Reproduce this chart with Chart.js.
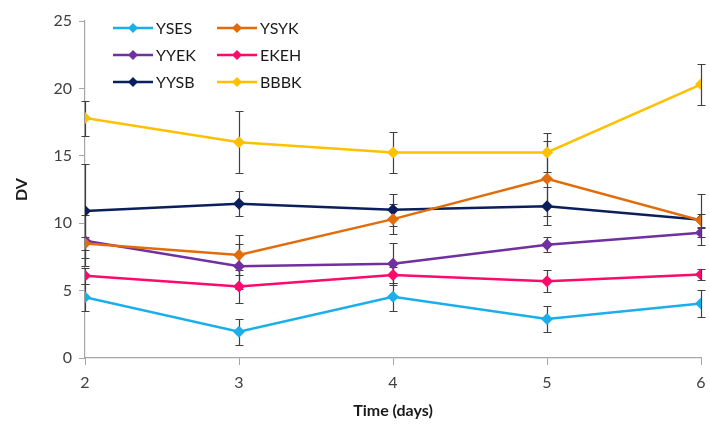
<!DOCTYPE html>
<html><head><meta charset="utf-8">
<script src="https://cdn.jsdelivr.net/npm/chart.js@4"></script>
<style>html,body{margin:0;padding:0;background:#fff}#wrap{width:710px;height:424px}</style>
</head><body><div id="wrap"><canvas id="c" width="710" height="424"></canvas></div>
<script>
const days = [2, 3, 4, 5, 6];
const seriesNames = ["YSES", "YSYK", "YYEK", "EKEH", "YYSB", "BBBK"];
const YSES = [4.5, 1.95, 4.55, 2.9, 4.05];
const YSYK = [8.5, 7.65, 10.3, 13.3, 10.2];
const YYEK = [8.7, 6.8, 7.0, 8.4, 9.3];
const EKEH = [6.1, 5.3, 6.15, 5.7, 6.2];
const YYSB = [10.9, 11.45, 11.0, 11.25, 10.25];
const BBBK = [17.8, 16.0, 15.25, 15.25, 20.3];
const YSES_err = [1.0, 0.95, 1.05, 0.95, 1.0];
const YSYK_err = [0.5, 1.5, 1.1, 2.8, 0.5];
const YYEK_err = [1.9, 1.65, 1.55, 0.55, 0.35];
const EKEH_err = [0.6, 1.25, 0.6, 0.8, 0.4];
const YYSB_err = [3.5, 0.95, 1.2, 1.4, 1.9];
const BBBK_err = [1.3, 2.3, 1.5, 1.45, 1.5];
const yTicks = [0, 5, 10, 15, 20, 25];

const values = [YSES, YSYK, YYEK, EKEH, YYSB, BBBK];
const errors = [YSES_err, YSYK_err, YYEK_err, EKEH_err, YYSB_err, BBBK_err];
const colors = ["#1AAEEB", "#E36C0A", "#7030A0", "#FF0A6C", "#0B1F5C", "#FFC000"];
const FONT = "Lato, 'Open Sans', sans-serif";

const datasets = seriesNames.map((n, i) => ({
  label: n,
  data: days.map((d, j) => ({x: d, y: values[i][j]})),
  errs: errors[i],
  borderColor: colors[i],
  backgroundColor: colors[i],
  borderWidth: 2.5,
  pointStyle: 'rectRot',
  pointRadius: 6,
  pointHoverRadius: 6,
  pointBorderWidth: 0,
  tension: 0,
  fill: false
}));

const errorBars = {
  id: 'errorBars',
  beforeDatasetsDraw(chart) {
    const ctx = chart.ctx, xs = chart.scales.x, ys = chart.scales.y;
    ctx.save();
    ctx.strokeStyle = '#404040';
    ctx.lineWidth = 1.2;
    chart.data.datasets.forEach(ds => {
      ds.data.forEach((p, j) => {
        const e = ds.errs[j];
        const px = Math.round(xs.getPixelForValue(p.x)) + 0.5;
        const t = Math.round(ys.getPixelForValue(p.y + e)) + 0.5;
        const b = Math.round(ys.getPixelForValue(p.y - e)) + 0.5;
        ctx.beginPath();
        ctx.moveTo(px, t); ctx.lineTo(px, b);
        ctx.moveTo(px - 4, t); ctx.lineTo(px + 4, t);
        ctx.moveTo(px - 4, b); ctx.lineTo(px + 4, b);
        ctx.stroke();
      });
    });
    ctx.restore();
  }
};

const customLegend = {
  id: 'customLegend',
  afterDraw(chart) {
    const ctx = chart.ctx;
    ctx.save();
    ctx.font = "16px " + FONT;
    ctx.textBaseline = 'middle';
    const colX = [113, 217];
    const rowY = [28, 55, 82];
    chart.data.datasets.forEach((ds, i) => {
      const cx = colX[i % 2], cy = rowY[Math.floor(i / 2)];
      ctx.strokeStyle = ds.borderColor;
      ctx.lineWidth = 2.5;
      ctx.beginPath(); ctx.moveTo(cx, cy); ctx.lineTo(cx + 40, cy); ctx.stroke();
      ctx.fillStyle = ds.borderColor;
      ctx.beginPath();
      ctx.moveTo(cx + 20, cy - 5); ctx.lineTo(cx + 25, cy); ctx.lineTo(cx + 20, cy + 5); ctx.lineTo(cx + 15, cy);
      ctx.closePath(); ctx.fill();
      ctx.fillStyle = '#1a1a1a';
      ctx.fillText(ds.label, cx + 43, cy + 1);
    });
    ctx.restore();
  }
};

new Chart(document.getElementById('c'), {
  type: 'line',
  data: { datasets },
  options: {
    responsive: false,
    animation: false,
    events: [],
    layout: { padding: { top: 21, right: 9, left: 8, bottom: 0 } },
    plugins: { legend: { display: false }, tooltip: { enabled: false } },
    scales: {
      x: {
        type: 'linear', min: 2, max: 6,
        afterBuildTicks(s) { s.ticks = days.map(v => ({value: v})); },
        grid: { display: true, drawOnChartArea: false, drawTicks: true, tickLength: 7, color: '#A6A6A6', lineWidth: 1 },
        border: { display: true, color: '#A6A6A6', width: 1.2 },
        ticks: { color: '#404040', font: { size: 16, family: FONT }, padding: 8, maxRotation: 0 },
        title: { display: true, text: 'Time (days)', color: '#1a1a1a', font: { size: 16, weight: 'bold', family: FONT }, padding: { top: 9 } },
        afterFit(s) { s.height = 66; s.paddingRight = 0; s.paddingLeft = 0; }
      },
      y: {
        min: 0, max: 25,
        afterBuildTicks(s) { s.ticks = yTicks.map(v => ({value: v})); },
        grid: { display: true, drawOnChartArea: false, drawTicks: true, tickLength: 6, color: '#A6A6A6', lineWidth: 1 },
        border: { display: true, color: '#A6A6A6', width: 1.2 },
        ticks: { color: '#404040', font: { size: 16, family: FONT }, padding: 7 },
        title: { display: true, text: 'DV', color: '#1a1a1a', font: { size: 16, weight: 'bold', family: FONT }, padding: { bottom: 10 } },
        afterFit(s) { s.width = 77; s.paddingTop = 0; s.paddingBottom = 0; }
      }
    }
  },
  plugins: [errorBars, customLegend]
});
</script></body></html>
